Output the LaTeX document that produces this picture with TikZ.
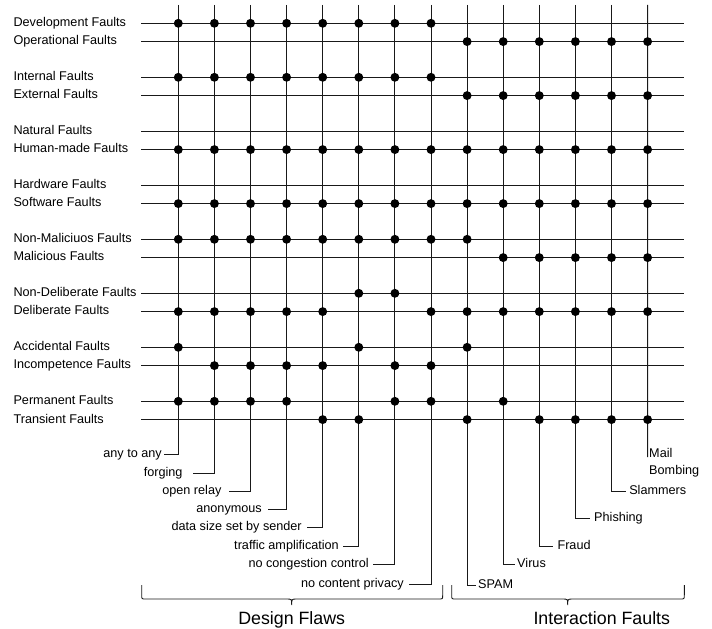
\documentclass[tikz,border=0pt]{standalone}
\usepackage{fontspec}
\setmainfont{Liberation Sans}
\usetikzlibrary{calc,positioning}

\tikzset{
    wire/.style={line width=0.75pt, black!90},
    small/.style={font=\fontsize{10.8}{14.5}\selectfont},
    fault/.style={small, anchor=west, inner sep=0pt, text height=8pt, text depth=2.2pt},
    flaw/.style={small, anchor=east, inner ysep=0pt, text height=8pt, text depth=2.2pt},
    attack/.style={flaw, anchor=west},
    group/.style={font=\fontsize{15.2}{18}\selectfont, anchor=base, inner sep=0pt}
}

\begin{document}
\begin{tikzpicture}[x=0.03cm, y=-0.03cm]
    \useasboundingbox (0,0) rectangle (712,629);

    % fault classes, two per row pair
    \foreach \i/\name in {0/Development Faults, 1/Operational Faults,
            2/Internal Faults, 3/External Faults, 4/Natural Faults, 5/Human-made Faults,
            6/Hardware Faults, 7/Software Faults, 8/Non-Maliciuos Faults, 9/Malicious Faults,
            10/Non-Deliberate Faults, 11/Deliberate Faults, 12/Accidental Faults,
            13/Incompetence Faults, 14/Permanent Faults, 15/Transient Faults} {
        \pgfmathsetmacro{\ry}{23.3+54*floor(\i/2)+18.3*mod(\i,2)}
        \node[fault] (f\i) at (13.3,\ry) {\name};
        \coordinate (l\i) at (141,\ry);
        \coordinate (r\i) at (684,\ry);
        \draw[wire] (l\i) -- (r\i);
    }

    % column tops
    \foreach \c in {0,...,13} {
        \pgfmathsetmacro{\cx}{178.3+36.1*\c}
        \coordinate (t\c) at (\cx,5);
    }

    % design flaws
    \foreach \c/\ly/\sx/\g/\txt in {0/454/164/1.7pt/any to any, 1/473/192.7/8.5pt/forging,
            2/491/228.7/6pt/open relay, 3/509/268/5.1pt/anonymous,
            4/527.5/307/4.3pt/data size set by sender, 5/546/343/3.4pt/traffic amplification,
            6/564/373/3.4pt/no congestion control, 7/584.5/409/4.3pt/no content privacy} {
        \node[flaw, inner xsep=\g] (d\c) at (\sx,\ly) {\txt};
        \draw[wire] (t\c) |- (d\c);
    }

    % interaction faults
    \foreach \c/\ly/\sx/\g/\txt in {8/585/476/1.7pt/SPAM, 9/564/515/1.7pt/Virus,
            10/546/553.3/3.4pt/Fraud, 11/518.5/590/3.4pt/Phishing,
            12/491/626/2.6pt/Slammers} {
        \node[attack, inner xsep=\g] (a\c) at (\sx,\ly) {\txt};
        \draw[wire] (t\c) |- (a\c);
    }
    \coordinate (b13) at (647.6,457);
    \draw[wire] (t13) -- (b13);
    \node[small, anchor=north west, align=left, inner sep=0pt] (a13) at (649,448.5) {Mail\\Bombing};

    % which class each column belongs to
    \foreach \r/\cols in {0/{0,...,7}, 1/{8,...,13}, 2/{0,...,7}, 3/{8,...,13},
            5/{0,...,13}, 7/{0,...,13}, 8/{0,...,8}, 9/{9,...,13}, 10/{5,6},
            11/{0,1,2,3,4,7,8,9,10,11,12,13}, 12/{0,5,8}, 13/{1,2,3,4,6,7},
            14/{0,1,2,3,6,7,9}, 15/{4,5,8,10,11,12,13}} {
        \foreach \c in \cols
            \fill (t\c |- l\r) circle (3.8pt);
    }

    % braces
    \foreach \a/\m/\b in {141.7/291.7/442.7, 451.7/567.7/684.3}
        \draw[wire] (\a,585) -- (\a,595) .. controls (\a,599) .. (\a+4,599)
            -- (\m-5,599) .. controls (\m,599) .. (\m,605)
            .. controls (\m,599) .. (\m+5,599) -- (\b-4,599)
            .. controls (\b,599) .. (\b,595) -- (\b,585);
%    \draw[wire] (141.7,599) -- (684.3,599);
    \node[group] (design) at (291.7,624.5) {Design Flaws};
    \node[group] (interaction) at (601.8,624.5) {Interaction Faults};
\end{tikzpicture}
\end{document}
